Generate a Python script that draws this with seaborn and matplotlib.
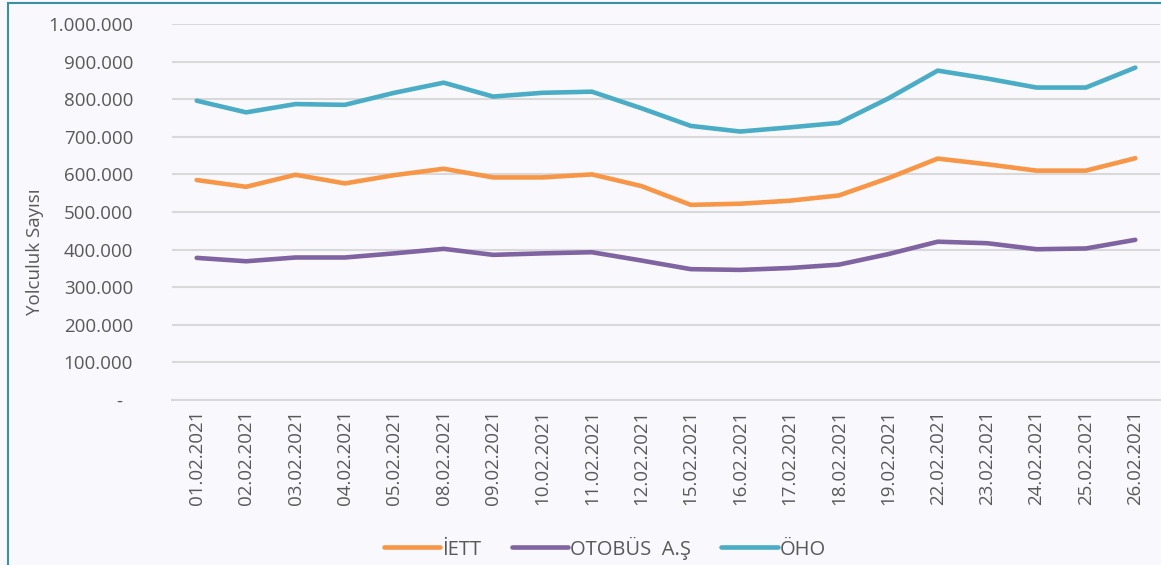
import pandas as pd
import seaborn as sns
import matplotlib.pyplot as plt
from matplotlib.patches import Rectangle
from matplotlib.ticker import FuncFormatter, FixedLocator

# values
dates = ['01.02.2021', '02.02.2021', '03.02.2021', '04.02.2021', '05.02.2021',
         '08.02.2021', '09.02.2021', '10.02.2021', '11.02.2021', '12.02.2021',
         '15.02.2021', '16.02.2021', '17.02.2021', '18.02.2021', '19.02.2021',
         '22.02.2021', '23.02.2021', '24.02.2021', '25.02.2021', '26.02.2021']
iett = [585000, 567000, 599000, 576000, 598000, 615000, 592000, 592000, 600000, 569000,
        519000, 522000, 530000, 544000, 590000, 642000, 627000, 610000, 610000, 643000]
otobus = [378000, 369000, 379000, 379000, 390000, 402000, 386000, 390000, 393000, 371000,
          348000, 346000, 351000, 360000, 388000, 421000, 417000, 401000, 403000, 426000]
oho = [796000, 765000, 787000, 785000, 817000, 844000, 807000, 817000, 820000, 776000,
       729000, 714000, 725000, 737000, 802000, 876000, 855000, 831000, 831000, 884000]
series_names = ['İETT', 'OTOBÜS  A.Ş', 'ÖHO']
colors = ['#F79646', '#8064A2', '#4BACC6']

df = pd.concat([
    pd.DataFrame({'tarih': dates, 'yolculuk': vals, 'seri': name})
    for name, vals in zip(series_names, [iett, otobus, oho])
])

sns.set_style('white')
plt.rcParams['font.family'] = ['Open Sans', 'DejaVu Sans']

bg = '#f9f9fd'
text_color = '#595959'
grid_color = '#d9d9d9'

fig = plt.figure(figsize=(11.61, 5.65), dpi=100, facecolor=bg)
ax = fig.add_axes([172 / 1161, 1 - 400 / 565, (1160 - 172) / 1161, (400 - 24) / 565])
ax.set_facecolor(bg)

sns.lineplot(data=df, x='tarih', y='yolculuk', hue='seri', palette=colors,
             linewidth=3.3, sort=False, ax=ax, legend=False)
for line in ax.lines:
    line.set_solid_capstyle('round')
    line.set_solid_joinstyle('round')

ax.set_xlim(-0.5, len(dates) - 0.5)
ax.set_ylim(0, 1000000)
ax.set_yticks(range(0, 1000001, 100000))
ax.yaxis.set_major_formatter(FuncFormatter(
    lambda v, p: '-  ' if v == 0 else f'{int(v):,}'.replace(',', '.')))
ax.grid(axis='y', color=grid_color, linewidth=1.5)
ax.set_axisbelow(True)

ax.set_xticks(range(len(dates)))
ax.set_xticklabels(dates, rotation=90)
ax.xaxis.set_minor_locator(FixedLocator([i - 0.5 for i in range(len(dates) + 1)]))
ax.tick_params(axis='x', which='major', length=0, pad=7, labelsize=13.5, labelcolor=text_color)
ax.tick_params(axis='x', which='minor', length=5, width=1.3, color=grid_color)
ax.tick_params(axis='y', length=0, pad=28, labelsize=13.5, labelcolor=text_color)

for s in ['top', 'right', 'left']:
    ax.spines[s].set_visible(False)
ax.spines['bottom'].set_color(grid_color)
ax.spines['bottom'].set_linewidth(1.5)

ax.set_xlabel('')
ax.set_ylabel('')
fig.text(35 / 1161, 1 - 252 / 565, 'Yolculuk Sayısı', rotation=90, fontsize=13.5,
         color=text_color, ha='center', va='center')

handles = [plt.Line2D([], [], color=c, linewidth=3.3, solid_capstyle='round') for c in colors]
fig.legend(handles, series_names, loc='center', bbox_to_anchor=(605 / 1161, 1 - 548 / 565),
           ncol=3, frameon=False, fontsize=14.5, labelcolor=text_color,
           handlelength=2.8, handletextpad=0.1, columnspacing=1.5)

# chart area border
fig.patches.append(Rectangle((8 / 1161, -0.1), 1.2, 1.1 - 3 / 565, transform=fig.transFigure,
                             fill=False, edgecolor='#3a8fa3', linewidth=1.5))

fig.savefig('out.png', dpi=100, facecolor=bg)
